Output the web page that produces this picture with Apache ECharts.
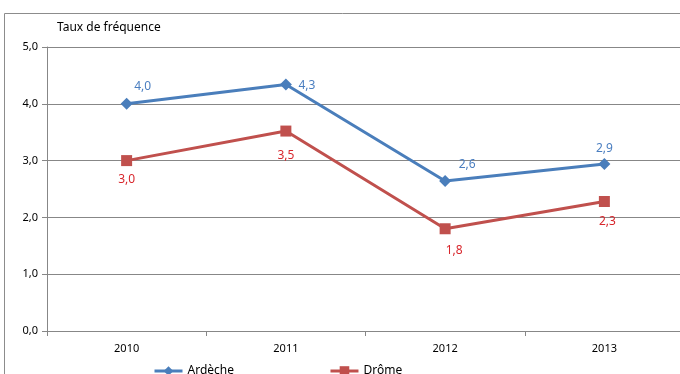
<!DOCTYPE html>
<html>
<head>
<meta charset="utf-8">
<script src="https://cdn.jsdelivr.net/npm/echarts@6/dist/echarts.min.js"></script>
<style>
  html, body { margin: 0; padding: 0; background: #fff; }
  #chart { width: 680px; height: 374px; }
</style>
</head>
<body>
<div id="chart"></div>
<script>
var years = ['2010', '2011', '2012', '2013'];
var ardeche = [4.0, 4.34, 2.64, 2.94];
var drome = [3.0, 3.52, 1.8, 2.28];
var yTicks = [0, 1, 2, 3, 4, 5];

// décalage des étiquettes par point (comme dans le graphique d'origine)
var ardecheOffsets = [[16, -17], [21, 1], [22, -16], [0, -15]];
var dromeOffsets = [[0, 19], [0, 25], [9, 22], [3, 20]];

function fr(v) {
    return Number(v).toFixed(1).replace('.', ',');
}

function withLabels(values, offsets) {
    return values.map(function (v, i) {
        return { value: v, label: { offset: offsets[i] } };
    });
}

var chart = echarts.init(document.getElementById('chart'));
var font = '"Noto Sans", sans-serif';
var grey = '#878787';
var blue = '#4a7ebb';
var red = '#c0504d';

var option = {
    animation: false,
    textStyle: { fontFamily: font },
    graphic: [
        {
            type: 'rect',
            shape: { x: 4.5, y: 13.5, width: 700, height: 420 },
            style: { fill: 'none', stroke: '#8c8c8c', lineWidth: 1 }
        },
        {
            type: 'text',
            left: 57,
            top: 22,
            style: { text: 'Taux de fréquence', fontSize: 12, fontFamily: font, fill: '#000' }
        }
    ],
    grid: { left: 47, top: 47, width: 637, height: 284, outerBoundsMode: 'none' },
    legend: {
        left: 153,
        top: 365,
        padding: 0,
        itemWidth: 28,
        itemHeight: 12,
        itemGap: 95,
        lineStyle: { width: 3 },
        textStyle: { fontSize: 12, color: '#000', fontFamily: font },
        data: ['Ardèche', 'Drôme']
    },
    xAxis: {
        type: 'category',
        data: years,
        boundaryGap: true,
        axisLine: { lineStyle: { color: grey, width: 1 } },
        axisTick: { show: true, length: 5, lineStyle: { color: grey } },
        axisLabel: { fontSize: 11, color: '#000', margin: 12 }
    },
    yAxis: {
        type: 'value',
        min: yTicks[0],
        max: yTicks[yTicks.length - 1],
        interval: 1,
        axisLine: { show: true, lineStyle: { color: grey, width: 1 } },
        axisTick: { show: true, length: 5, lineStyle: { color: grey } },
        splitLine: { lineStyle: { color: grey, width: 1 } },
        axisLabel: { fontSize: 11, color: '#000', margin: 9, formatter: fr }
    },
    series: [
        {
            name: 'Ardèche',
            type: 'line',
            data: withLabels(ardeche, ardecheOffsets),
            symbol: 'diamond',
            symbolSize: 12,
            itemStyle: { color: blue },
            lineStyle: { width: 3, color: blue },
            label: {
                show: true,
                position: 'inside',
                fontSize: 12,
                color: '#4a7ec0',
                formatter: function (p) { return fr(p.value); }
            }
        },
        {
            name: 'Drôme',
            type: 'line',
            data: withLabels(drome, dromeOffsets),
            symbol: 'rect',
            symbolSize: 11,
            itemStyle: { color: red },
            lineStyle: { width: 3, color: red },
            label: {
                show: true,
                position: 'inside',
                fontSize: 12,
                color: '#d8262c',
                formatter: function (p) { return fr(p.value); }
            }
        }
    ]
};

chart.setOption(option);
</script>
</body>
</html>
